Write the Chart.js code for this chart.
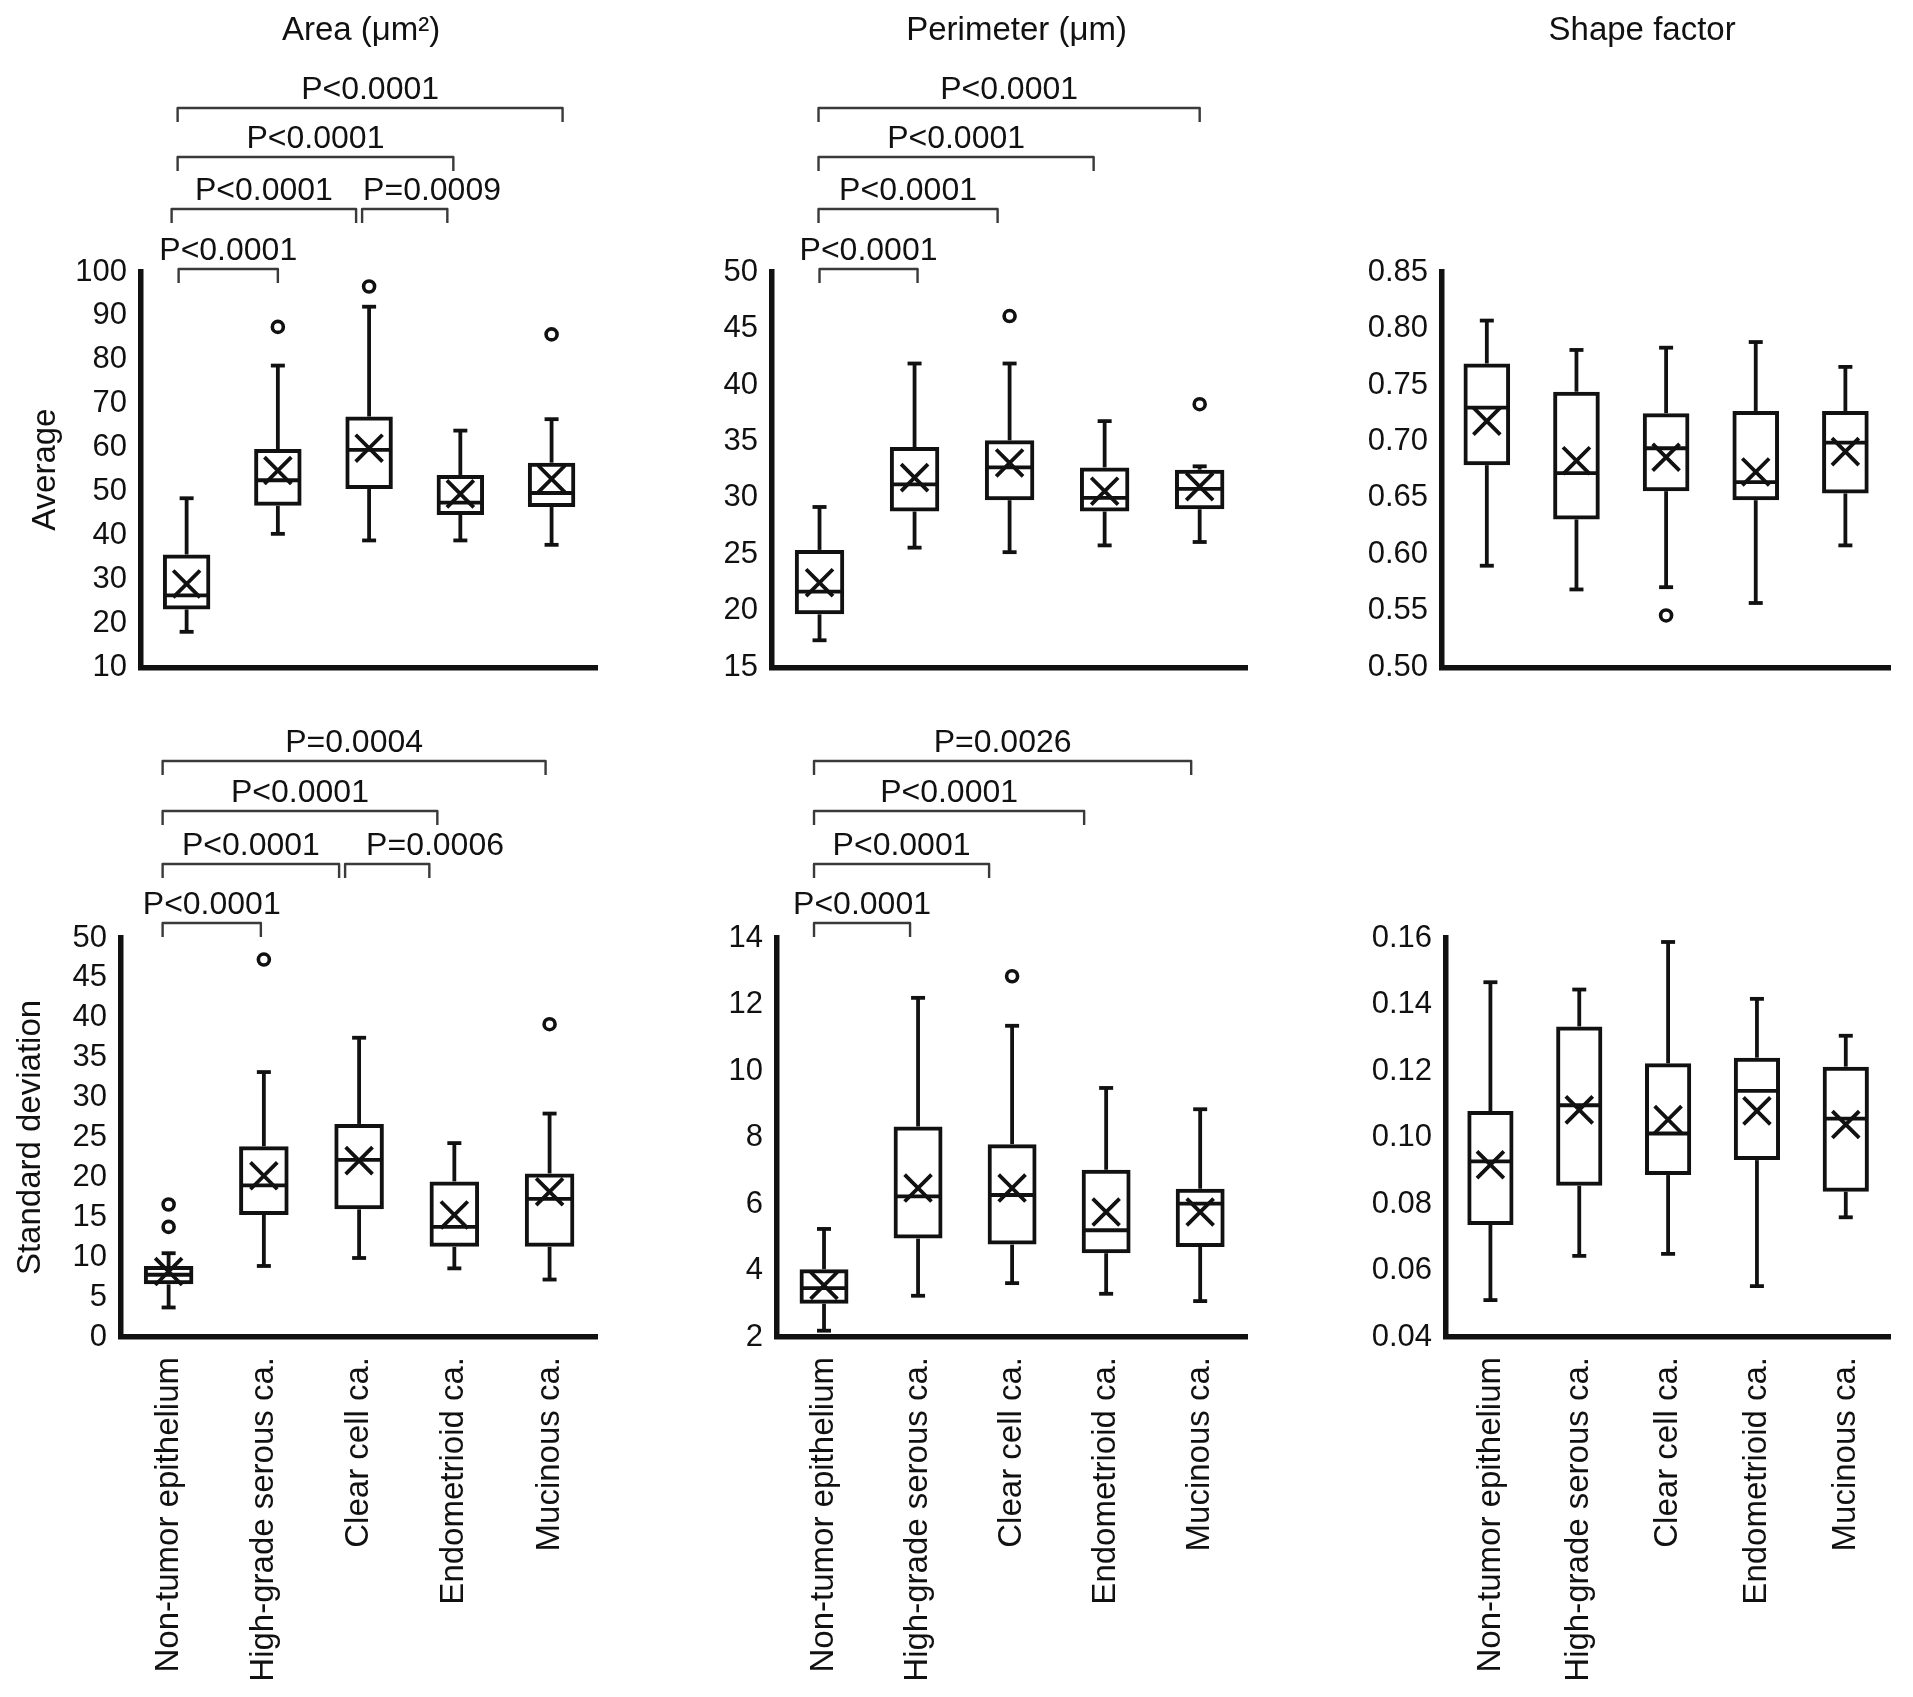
<!DOCTYPE html>
<html>
<head>
<meta charset="utf-8">
<script src="https://cdn.jsdelivr.net/npm/chart.js@4.4.1/dist/chart.umd.min.js"></script>
<style>
  html, body { margin: 0; padding: 0; background: #fff; }
  body { width: 1913px; height: 1697px; position: relative; overflow: hidden; }
  canvas { position: absolute; display: block; }
</style>
</head>
<body>
<canvas id="c1"></canvas>
<canvas id="c2"></canvas>
<canvas id="c3"></canvas>
<canvas id="c4"></canvas>
<canvas id="c5"></canvas>
<canvas id="c6"></canvas>
<script>
// ---------------- DATA ----------------
const CATEGORIES = ['Non-tumor epithelium', 'High-grade serous ca.', 'Clear cell ca.', 'Endometrioid ca.', 'Mucinous ca.'];

// Area average (µm²)
const AREA_AVG_MIN  = [18.1, 40.4, 38.9, 38.9, 37.9];
const AREA_AVG_Q1   = [23.2, 46.8, 50.6, 44.7, 46.5];
const AREA_AVG_MED  = [26.4, 52.6, 59.5, 47.5, 49.7];
const AREA_AVG_Q3   = [35.7, 59.7, 67.1, 53.8, 56.6];
const AREA_AVG_MAX  = [48.5, 78.7, 92.1, 63.9, 66.5];
const AREA_AVG_MEAN = [29.0, 54.8, 59.9, 49.5, 52.9];
const AREA_AVG_OUT  = [[], [87.5], [96.7], [], [85.8]];
const AREA_AVG_TICKS = ['10', '20', '30', '40', '50', '60', '70', '80', '90', '100'];
const AREA_AVG_BRACKETS = [[0, 1, 0, 'P<0.0001'], [0, 2, 1, 'P<0.0001'], [2, 3, 1, 'P=0.0009'], [0, 3, 2, 'P<0.0001'], [0, 4, 3, 'P<0.0001']];

// Perimeter average (µm)
const PERIM_AVG_MIN  = [17.4, 25.6, 25.2, 25.8, 26.1];
const PERIM_AVG_Q1   = [19.7, 28.8, 29.8, 28.8, 29.0];
const PERIM_AVG_MED  = [21.7, 31.2, 32.7, 30.0, 30.8];
const PERIM_AVG_Q3   = [25.4, 34.5, 35.1, 32.7, 32.5];
const PERIM_AVG_MAX  = [29.2, 41.9, 41.9, 36.8, 32.8];
const PERIM_AVG_MEAN = [22.5, 31.8, 33.1, 30.6, 31.0];
const PERIM_AVG_OUT  = [[], [], [46.1], [], [38.3]];
const PERIM_AVG_TICKS = ['15', '20', '25', '30', '35', '40', '45', '50'];
const PERIM_AVG_BRACKETS = [[0, 1, 0, 'P<0.0001'], [0, 2, 1, 'P<0.0001'], [0, 3, 2, 'P<0.0001'], [0, 4, 3, 'P<0.0001']];

// Shape factor average
const SHAPE_AVG_MIN  = [0.590, 0.569, 0.571, 0.557, 0.608];
const SHAPE_AVG_Q1   = [0.679, 0.631, 0.656, 0.648, 0.654];
const SHAPE_AVG_MED  = [0.730, 0.672, 0.694, 0.664, 0.699];
const SHAPE_AVG_Q3   = [0.769, 0.744, 0.725, 0.727, 0.727];
const SHAPE_AVG_MAX  = [0.807, 0.781, 0.783, 0.788, 0.766];
const SHAPE_AVG_MEAN = [0.718, 0.683, 0.686, 0.673, 0.691];
const SHAPE_AVG_OUT  = [[], [], [0.546], [], []];
const SHAPE_AVG_TICKS = ['0.50', '0.55', '0.60', '0.65', '0.70', '0.75', '0.80', '0.85'];
const SHAPE_AVG_BRACKETS = [];

// Area standard deviation
const AREA_SD_MIN  = [3.7, 8.9, 9.9, 8.6, 7.2];
const AREA_SD_Q1   = [6.6, 15.3, 16.0, 11.3, 11.3];
const AREA_SD_MED  = [7.8, 19.0, 22.2, 13.8, 17.3];
const AREA_SD_Q3   = [8.9, 23.9, 26.7, 19.5, 20.5];
const AREA_SD_MAX  = [10.5, 33.2, 37.5, 24.3, 28.0];
const AREA_SD_MEAN = [8.2, 20.2, 22.1, 15.3, 18.2];
const AREA_SD_OUT  = [[13.8, 16.6], [47.3], [], [], [39.2]];
const AREA_SD_TICKS = ['0', '5', '10', '15', '20', '25', '30', '35', '40', '45', '50'];
const AREA_SD_BRACKETS = [[0, 1, 0, 'P<0.0001'], [0, 2, 1, 'P<0.0001'], [2, 3, 1, 'P=0.0006'], [0, 3, 2, 'P<0.0001'], [0, 4, 3, 'P=0.0004']];

// Perimeter standard deviation
const PERIM_SD_MIN  = [2.19, 3.24, 3.62, 3.30, 3.08];
const PERIM_SD_Q1   = [3.00, 4.96, 4.78, 4.52, 4.71];
const PERIM_SD_MED  = [3.47, 6.23, 6.27, 5.21, 6.01];
const PERIM_SD_Q3   = [4.04, 8.33, 7.80, 7.03, 6.46];
const PERIM_SD_MAX  = [5.25, 12.20, 11.36, 9.49, 8.85];
const PERIM_SD_MEAN = [3.55, 6.48, 6.48, 5.76, 5.76];
const PERIM_SD_OUT  = [[], [], [12.85], [], []];
const PERIM_SD_TICKS = ['2', '4', '6', '8', '10', '12', '14'];
const PERIM_SD_BRACKETS = [[0, 1, 0, 'P<0.0001'], [0, 2, 1, 'P<0.0001'], [0, 3, 2, 'P<0.0001'], [0, 4, 3, 'P=0.0026']];

// Shape factor standard deviation
const SHAPE_SD_MIN  = [0.0511, 0.0644, 0.0650, 0.0553, 0.0760];
const SHAPE_SD_Q1   = [0.0737, 0.0855, 0.0887, 0.0932, 0.0837];
const SHAPE_SD_MED  = [0.0928, 0.1097, 0.1012, 0.1140, 0.1057];
const SHAPE_SD_Q3   = [0.1080, 0.1334, 0.1223, 0.1240, 0.1213];
const SHAPE_SD_MAX  = [0.1467, 0.1445, 0.1588, 0.1417, 0.1306];
const SHAPE_SD_MEAN = [0.0918, 0.1083, 0.1054, 0.1080, 0.1039];
const SHAPE_SD_OUT  = [[], [], [], [], []];
const SHAPE_SD_TICKS = ['0.04', '0.06', '0.08', '0.10', '0.12', '0.14', '0.16'];
const SHAPE_SD_BRACKETS = [];

// ---------------- STYLE / LAYOUT ----------------
const FONT = '"Liberation Sans", Arial, Helvetica, sans-serif';
const INK = '#111';
const BRACKET_INK = '#3a3a3a';
const TOP_LEVELS = [269, 209, 157, 108];      // canvas y of bracket levels (top row)
const BOT_LEVELS = [223, 164, 111, 61];       // canvas y of bracket levels (bottom row, canvas top = 700)

const LAYOUTS = {
  c1: { left: 0,    top: 0,   w: 620, h: 700, yW: 141, padTop: 272, padRight: 19, xH: 28,  showX: false, title: 'Area (\u03bcm\u00b2)', titleDx: -8,  yTitle: 'Average', yTitleX: 55, levels: TOP_LEVELS,
        nudges: [[-8, 0], [-15, -13], [-7, -13, 'left', 1], [-9, -7], [-9, 11]] },
  c2: { left: 640,  top: 0,   w: 630, h: 700, yW: 132, padTop: 272, padRight: 18, xH: 28,  showX: false, title: 'Perimeter (\u03bcm)', titleDx: 7, levels: TOP_LEVELS,
        nudges: [[0, 3], [-1, -12], [-1, -11], [-1, 0]] },
  c3: { left: 1280, top: 0,   w: 633, h: 700, yW: 162, padTop: 272, padRight: 12, xH: 28,  showX: false, title: 'Shape factor', titleDx: -24, levels: TOP_LEVELS, nudges: [] },
  c4: { left: 0,    top: 700, w: 620, h: 997, yW: 121, padTop: 238, padRight: 19, xH: 360, showX: true, yTitle: 'Standard deviation', yTitleX: 40, levels: BOT_LEVELS,
        nudges: [[-6, -3], [-6, -20], [-14, -25, 'left', 21], [-6, -17], [-6, -4]] },
  c5: { left: 640,  top: 700, w: 630, h: 997, yW: 137, padTop: 238, padRight: 10, xH: 360, showX: true, levels: BOT_LEVELS,
        nudges: [[-10, -8], [-10, -23], [-10, -22], [-10, -9]] },
  c6: { left: 1280, top: 700, w: 633, h: 997, yW: 166, padTop: 238, padRight: 12, xH: 360, showX: true, levels: BOT_LEVELS, nudges: [] }
};

Chart.defaults.font.family = FONT;
Chart.defaults.color = INK;

function makePanel(id, s) {
  const L = LAYOUTS[id];
  const cv = document.getElementById(id);
  cv.width = L.w; cv.height = L.h;
  cv.style.left = L.left + 'px'; cv.style.top = L.top + 'px';
  cv.style.width = L.w + 'px'; cv.style.height = L.h + 'px';

  const boxes = s.q1.map((v, i) => [v, s.q3[i]]);
  const outliers = [];
  s.out.forEach((arr, i) => arr.forEach(v => outliers.push({ x: CATEGORIES[i], y: v })));
  const tickVals = s.ticks.map(t => parseFloat(t));

  const decor = {
    id: 'decor' + id,
    afterDatasetsDraw(chart) {
      const ctx = chart.ctx, xs = chart.scales.x, ys = chart.scales.y;
      const meta = chart.getDatasetMeta(0);
      ctx.save();
      ctx.strokeStyle = INK;
      ctx.lineWidth = 3.8;
      ctx.lineCap = 'butt';
      const cap = 14;
      const seg = (x1, y1, x2, y2) => { ctx.beginPath(); ctx.moveTo(x1, y1); ctx.lineTo(x2, y2); ctx.stroke(); };
      CATEGORIES.forEach((c, i) => {
        const x = xs.getPixelForValue(i);
        const bw = meta.data[i].width;
        const yMin = ys.getPixelForValue(s.min[i]);
        const yQ1 = ys.getPixelForValue(s.q1[i]);
        const yMed = ys.getPixelForValue(s.med[i]);
        const yQ3 = ys.getPixelForValue(s.q3[i]);
        const yMax = ys.getPixelForValue(s.max[i]);
        seg(x, yQ3, x, yMax); seg(x - cap / 2, yMax, x + cap / 2, yMax);
        seg(x, yQ1, x, yMin); seg(x - cap / 2, yMin, x + cap / 2, yMin);
        seg(x - bw / 2 + 1, yMed, x + bw / 2 - 1, yMed);
      });
      ctx.restore();
    },
    afterDraw(chart) {
      const ctx = chart.ctx, xs = chart.scales.x, ca = chart.chartArea;
      ctx.save();
      ctx.fillStyle = INK;
      // panel title
      if (L.title) {
        ctx.font = '33px ' + FONT;
        ctx.textAlign = 'center';
        ctx.textBaseline = 'alphabetic';
        ctx.fillText(L.title, (ca.left + ca.right) / 2 + L.titleDx, 40);
      }
      // y axis title
      if (L.yTitle) {
        ctx.save();
        ctx.translate(L.yTitleX, (ca.top + ca.bottom) / 2);
        ctx.rotate(-Math.PI / 2);
        ctx.font = '33px ' + FONT;
        ctx.textAlign = 'center';
        ctx.textBaseline = 'alphabetic';
        ctx.fillText(L.yTitle, 0, 0);
        ctx.restore();
      }
      // significance brackets
      ctx.strokeStyle = BRACKET_INK;
      ctx.lineWidth = 2.4;
      ctx.lineJoin = 'round';
      ctx.font = '32px ' + FONT;
      ctx.textBaseline = 'alphabetic';
      s.brackets.forEach((b, k) => {
        const n = L.nudges[k] || [0, 0];
        const x1 = xs.getPixelForValue(b[0]) + n[0];
        const x2 = xs.getPixelForValue(b[1]) + n[1];
        const y = L.levels[b[2]];
        ctx.beginPath();
        ctx.moveTo(x1, y + 14); ctx.lineTo(x1, y); ctx.lineTo(x2, y); ctx.lineTo(x2, y + 14);
        ctx.stroke();
        if (n[2] === 'left') {
          ctx.textAlign = 'left';
          ctx.fillText(b[3], x1 + n[3], y - 9);
        } else {
          ctx.textAlign = 'center';
          ctx.fillText(b[3], (x1 + x2) / 2, y - 9);
        }
      });
      ctx.restore();
    }
  };

  return new Chart(cv, {
    type: 'bar',
    data: {
      labels: CATEGORIES,
      datasets: [
        { type: 'bar', data: boxes, backgroundColor: 'rgba(255,255,255,0)', borderColor: INK, borderWidth: 4,
          borderSkipped: false, barPercentage: 0.52, categoryPercentage: 1, order: 3 },
        { type: 'line', data: s.mean, showLine: false, pointStyle: 'crossRot', pointRadius: 19, pointBorderWidth: 3.8,
          pointBorderColor: INK, pointBackgroundColor: INK, borderColor: INK, order: 1 },
        { type: 'line', data: outliers, showLine: false, pointStyle: 'circle', pointRadius: 5.5, pointBorderWidth: 3.6,
          pointBorderColor: INK, pointBackgroundColor: '#fff', borderColor: INK, order: 2 }
      ]
    },
    options: {
      responsive: false,
      animation: false,
      events: [],
      layout: { padding: { top: L.padTop, right: L.padRight, left: 0, bottom: 0 } },
      plugins: { legend: { display: false }, tooltip: { enabled: false }, title: { display: false } },
      scales: {
        x: {
          type: 'category', offset: true,
          grid: { display: false, drawTicks: false },
          border: { display: true, width: 5.5, color: INK },
          ticks: { display: L.showX, minRotation: 90, maxRotation: 90, autoSkip: false, padding: 20,
                   font: { size: 33, family: FONT }, color: INK },
          afterFit: sc => { sc.height = L.xH; }
        },
        y: {
          type: 'linear', min: tickVals[0], max: tickVals[tickVals.length - 1], beginAtZero: false,
          grid: { display: false, drawTicks: false },
          border: { display: true, width: 5.5, color: INK },
          ticks: { autoSkip: false, padding: 14, font: { size: 31, family: FONT }, color: INK,
                   callback: v => { const k = tickVals.findIndex(t => Math.abs(t - v) < 1e-9); return k >= 0 ? s.ticks[k] : ''; } },
          afterBuildTicks: sc => { sc.ticks = tickVals.map(v => ({ value: v })); },
          afterFit: sc => { sc.width = L.yW; }
        }
      }
    },
    plugins: [decor]
  });
}

makePanel('c1', { min: AREA_AVG_MIN, q1: AREA_AVG_Q1, med: AREA_AVG_MED, q3: AREA_AVG_Q3, max: AREA_AVG_MAX, mean: AREA_AVG_MEAN, out: AREA_AVG_OUT, ticks: AREA_AVG_TICKS, brackets: AREA_AVG_BRACKETS });
makePanel('c2', { min: PERIM_AVG_MIN, q1: PERIM_AVG_Q1, med: PERIM_AVG_MED, q3: PERIM_AVG_Q3, max: PERIM_AVG_MAX, mean: PERIM_AVG_MEAN, out: PERIM_AVG_OUT, ticks: PERIM_AVG_TICKS, brackets: PERIM_AVG_BRACKETS });
makePanel('c3', { min: SHAPE_AVG_MIN, q1: SHAPE_AVG_Q1, med: SHAPE_AVG_MED, q3: SHAPE_AVG_Q3, max: SHAPE_AVG_MAX, mean: SHAPE_AVG_MEAN, out: SHAPE_AVG_OUT, ticks: SHAPE_AVG_TICKS, brackets: SHAPE_AVG_BRACKETS });
makePanel('c4', { min: AREA_SD_MIN, q1: AREA_SD_Q1, med: AREA_SD_MED, q3: AREA_SD_Q3, max: AREA_SD_MAX, mean: AREA_SD_MEAN, out: AREA_SD_OUT, ticks: AREA_SD_TICKS, brackets: AREA_SD_BRACKETS });
makePanel('c5', { min: PERIM_SD_MIN, q1: PERIM_SD_Q1, med: PERIM_SD_MED, q3: PERIM_SD_Q3, max: PERIM_SD_MAX, mean: PERIM_SD_MEAN, out: PERIM_SD_OUT, ticks: PERIM_SD_TICKS, brackets: PERIM_SD_BRACKETS });
makePanel('c6', { min: SHAPE_SD_MIN, q1: SHAPE_SD_Q1, med: SHAPE_SD_MED, q3: SHAPE_SD_Q3, max: SHAPE_SD_MAX, mean: SHAPE_SD_MEAN, out: SHAPE_SD_OUT, ticks: SHAPE_SD_TICKS, brackets: SHAPE_SD_BRACKETS });
</script>
</body>
</html>
